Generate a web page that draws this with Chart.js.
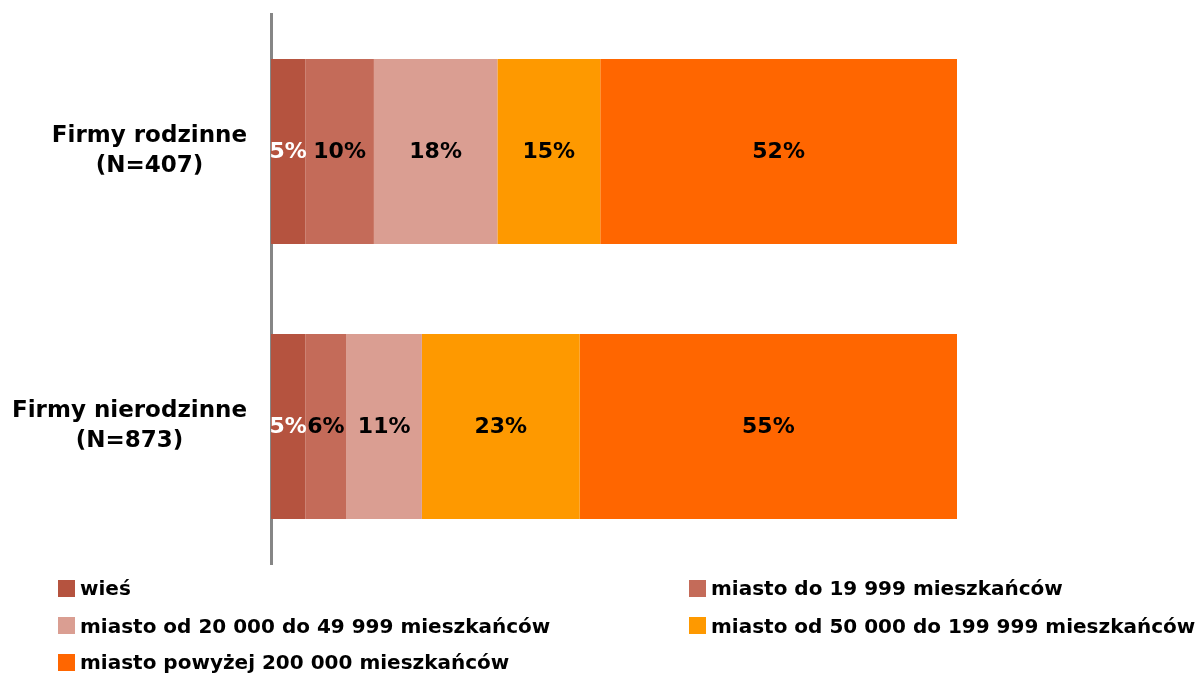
<!DOCTYPE html>
<html>
<head>
<meta charset="utf-8">
<script src="https://cdn.jsdelivr.net/npm/chart.js@4.4.0/dist/chart.umd.min.js"></script>
<style>
  html, body { margin: 0; padding: 0; background: #fff; }
  #wrap { position: relative; width: 1195px; height: 673px; }
  #legend { position: absolute; left: 58px; top: 569px; display: grid;
    grid-template-columns: 631px auto; grid-template-rows: 38px 37px 36px;
    font-family: "DejaVu Sans", sans-serif; font-weight: bold; font-size: 20px; color: #000; }
  .item { display: flex; align-items: center; white-space: nowrap; }
  .box { width: 17px; height: 17px; margin-right: 5px; flex: none; }
</style>
</head>
<body>
<div id="wrap">
  <canvas id="c" width="1195" height="673"></canvas>
  <div id="legend"></div>
</div>
<script>
const categories = [['Firmy rodzinne', '(N=407)'], ['Firmy nierodzinne', '(N=873)']];
const seriesNames = [
  'wieś',
  'miasto do 19 999 mieszkańców',
  'miasto od 20 000 do 49 999 mieszkańców',
  'miasto od 50 000 do 199 999 mieszkańców',
  'miasto powyżej 200 000 mieszkańców'
];
const wies = [5, 5];
const miastoDo19999 = [10, 6];
const miasto20000do49999 = [18, 11];
const miasto50000do199999 = [15, 23];
const miastoPowyzej200000 = [52, 55];
const seriesColors = ['#B5533F', '#C46B59', '#DA9E92', '#FE9900', '#FF6600'];
const labelColors = ['#FFFFFF', '#000000', '#000000', '#000000', '#000000'];

const seriesValues = [wies, miastoDo19999, miasto20000do49999, miasto50000do199999, miastoPowyzej200000];

const FONT = '"DejaVu Sans", sans-serif';

const dataLabelPlugin = {
  id: 'dataLabels',
  afterDatasetsDraw(chart) {
    const ctx = chart.ctx;
    ctx.save();
    ctx.font = 'bold 22px ' + FONT;
    ctx.textAlign = 'center';
    ctx.textBaseline = 'middle';
    for (let d = chart.data.datasets.length - 1; d >= 0; d--) {
      const meta = chart.getDatasetMeta(d);
      ctx.fillStyle = labelColors[d];
      meta.data.forEach((bar, i) => {
        const v = chart.data.datasets[d].data[i];
        const cx = (bar.x + bar.base) / 2;
        ctx.fillText(v + '%', cx, bar.y + 1);
      });
    }
    ctx.restore();
  }
};

const yLabelPlugin = {
  id: 'yLabels',
  afterDraw(chart) {
    const scale = chart.scales.y;
    const ctx = chart.ctx;
    const pad = 24, lh = 30;
    ctx.save();
    ctx.font = 'bold 23px ' + FONT;
    ctx.fillStyle = '#000';
    ctx.textAlign = 'center';
    ctx.textBaseline = 'middle';
    categories.forEach((lines, i) => {
      const y = scale.getPixelForTick(i);
      const widest = Math.max(...lines.map(l => ctx.measureText(l).width));
      const cx = scale.right - pad - widest / 2;
      lines.forEach((l, j) => {
        ctx.fillText(l, cx, y + (j - (lines.length - 1) / 2) * lh);
      });
    });
    ctx.restore();
  }
};

const chart = new Chart(document.getElementById('c'), {
  type: 'bar',
  data: {
    labels: categories,
    datasets: seriesNames.map((name, k) => ({
      label: name,
      data: seriesValues[k],
      backgroundColor: seriesColors[k],
      borderWidth: 0,
      categoryPercentage: 1,
      barPercentage: 0.673
    }))
  },
  options: {
    indexAxis: 'y',
    responsive: false,
    animation: false,
    layout: { padding: { top: 14, right: 238, bottom: 109, left: 0 } },
    plugins: { legend: { display: false }, tooltip: { enabled: false } },
    scales: {
      x: { stacked: true, min: 0, max: 100, display: false },
      y: {
        stacked: true,
        grid: { display: false },
        border: { display: true, color: '#868686', width: 3 },
        ticks: { color: 'rgba(0,0,0,0)', padding: 0, font: { family: FONT, size: 1 } },
        afterFit(s) { s.width = 271; }
      }
    }
  },
  plugins: [dataLabelPlugin, yLabelPlugin]
});

const legendOrder = [0, 1, 2, 3, 4];
const legend = document.getElementById('legend');
legendOrder.forEach(k => {
  const it = document.createElement('div');
  it.className = 'item';
  const b = document.createElement('span');
  b.className = 'box';
  b.style.background = seriesColors[k];
  const t = document.createElement('span');
  t.textContent = seriesNames[k];
  it.appendChild(b); it.appendChild(t);
  legend.appendChild(it);
});
</script>
</body>
</html>
